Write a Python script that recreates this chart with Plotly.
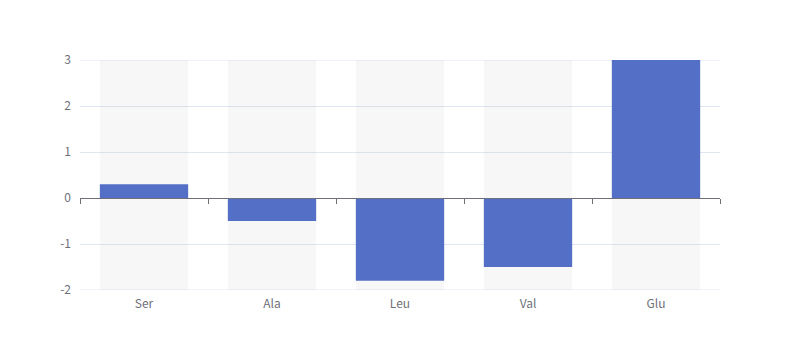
import plotly.graph_objects as go

categories = ["Ser", "Ala", "Leu", "Val", "Glu"]
values = [0.3, -0.5, -1.8, -1.5, 3]
y_min, y_max = -2, 3
tick_vals = [-2, -1, 0, 1, 2, 3]
tick_text = ["-2", "-1", "0", "1", "2", "3"]

font_family = "Noto Sans CJK SC, Noto Sans, sans-serif"
label_color = "#6E7079"
grid_color = "#E0E6F1"

fig = go.Figure()
# background bars (showBackground)
fig.add_trace(go.Bar(
    x=categories, y=[y_max - y_min] * len(categories), base=[y_min] * len(categories),
    width=0.69, marker=dict(color="rgba(180,180,180,0.11)", line=dict(width=0)),
    hoverinfo="skip", showlegend=False, xaxis="x", yaxis="y",
))
fig.add_trace(go.Bar(
    x=categories, y=values, width=0.69,
    marker=dict(color="#5470C6", line=dict(width=0)),
    showlegend=False, xaxis="x", yaxis="y",
))
# invisible trace to activate the zero-position axis
fig.add_trace(go.Scatter(x=[0], y=[0], mode="markers", marker=dict(opacity=0),
                         hoverinfo="skip", showlegend=False, xaxis="x2", yaxis="y"))

# edge grid lines (plotly clips grid lines at the range ends)
for yv in (y_min, y_max):
    fig.add_shape(type="line", xref="paper", yref="y", x0=0, x1=1, y0=yv, y1=yv,
                  line=dict(color=grid_color, width=1), layer="below")

n = len(categories)
fig.update_layout(
    width=800, height=360,
    margin=dict(l=72, r=88, t=52, b=78),
    paper_bgcolor="white", plot_bgcolor="white",
    barmode="overlay",
    font=dict(family=font_family, size=12, color=label_color),
    xaxis=dict(
        type="category", range=[-0.5, n - 0.5], showgrid=False, showline=False,
        ticks="outside", ticklen=3, tickcolor="rgba(0,0,0,0)", zeroline=False,
        tickfont=dict(size=12, color=label_color),
    ),
    xaxis2=dict(
        range=[-0.5, n - 0.5], overlaying="x", anchor="free",
        position=(0 - y_min) / (y_max - y_min),
        showline=True, linecolor=label_color, linewidth=1,
        ticks="outside", ticklen=5, tickcolor=label_color, tickwidth=1,
        tickvals=[i - 0.5 for i in range(n + 1)], showticklabels=False,
        showgrid=False, zeroline=False,
    ),
    yaxis=dict(
        range=[y_min, y_max], tickvals=tick_vals, ticktext=tick_text,
        showgrid=True, gridcolor=grid_color,
        gridwidth=1, zeroline=False, showline=False, ticks="",
        ticklabelstandoff=8, tickfont=dict(size=12, color=label_color),
    ),
)

fig.write_html("out.html")
